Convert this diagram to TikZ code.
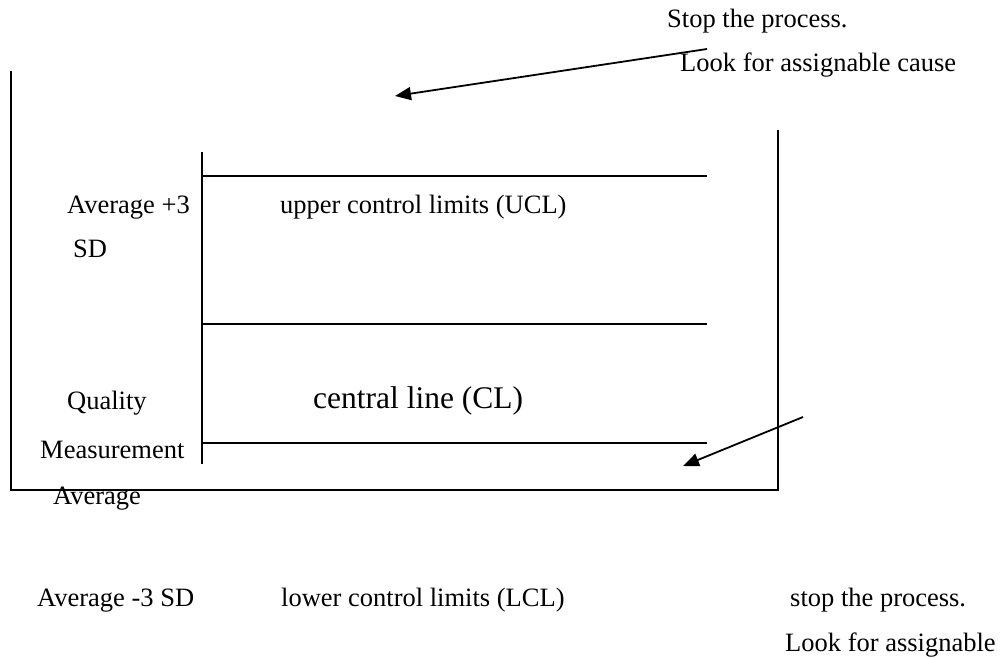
\documentclass[tikz,border=0pt]{standalone}
\usepackage{fontspec}
\setmainfont{Liberation Serif}
\usetikzlibrary{arrows.meta}
\begin{document}
\begin{tikzpicture}[x=1pt,y=-1pt,
  lbl/.style={anchor=base west,inner sep=0pt,font=\fontsize{26.5}{32}\selectfont},
  biglbl/.style={anchor=base west,inner sep=0pt,font=\fontsize{31.5}{38}\selectfont},
  frame/.style={line width=1.6pt,line cap=butt},
  limit/.style={line width=1.6pt},
  pointer/.style={line width=1.8pt,-{Triangle[length=16pt,width=13pt]}}]
\useasboundingbox (0,0) rectangle (1000,658);
% outer frame
\draw[frame] (11,71) -- (11,490) -- (778,490) -- (778,130);
% inner axis
\draw[frame] (202,152) -- (202,464);
% limit lines
\draw[limit] (202,176) -- (707,176);
\draw[limit] (202,324) -- (707,324);
\draw[limit] (202,443) -- (707,443);
% texts
\node[lbl] (stop1) at (667,28) {Stop the process.};
\node[lbl] (look1) at (680,72) {Look for assignable cause};
\node[lbl] (avgp) at (67,213) {Average +3};
\node[lbl] (sd) at (73,257) {SD};
\node[lbl] (ucl) at (280,213) {upper control limits (UCL)};
\node[lbl] (qual) at (67,409) {Quality};
\node[biglbl] (cl) at (313,408) {central line (CL)};
\node[lbl] (meas) at (40,458) {Measurement};
\node[lbl] (avg) at (53,504) {Average};
\node[lbl] (avgm) at (37,606) {Average -3 SD};
\node[lbl] (lcl) at (281,606) {lower control limits (LCL)};
\node[lbl] (stop2) at (790,606) {stop the process.};
\node[lbl] (look2) at (785,651) {Look for assignable};
% arrows
\coordinate (a1s) at (707,49);
\coordinate (a1e) at (395,96);
\coordinate (a2s) at (803,417);
\coordinate (a2e) at (683,466);
\draw[pointer] (a1s) -- (a1e);
\draw[pointer] (a2s) -- (a2e);
\end{tikzpicture}
\end{document}
